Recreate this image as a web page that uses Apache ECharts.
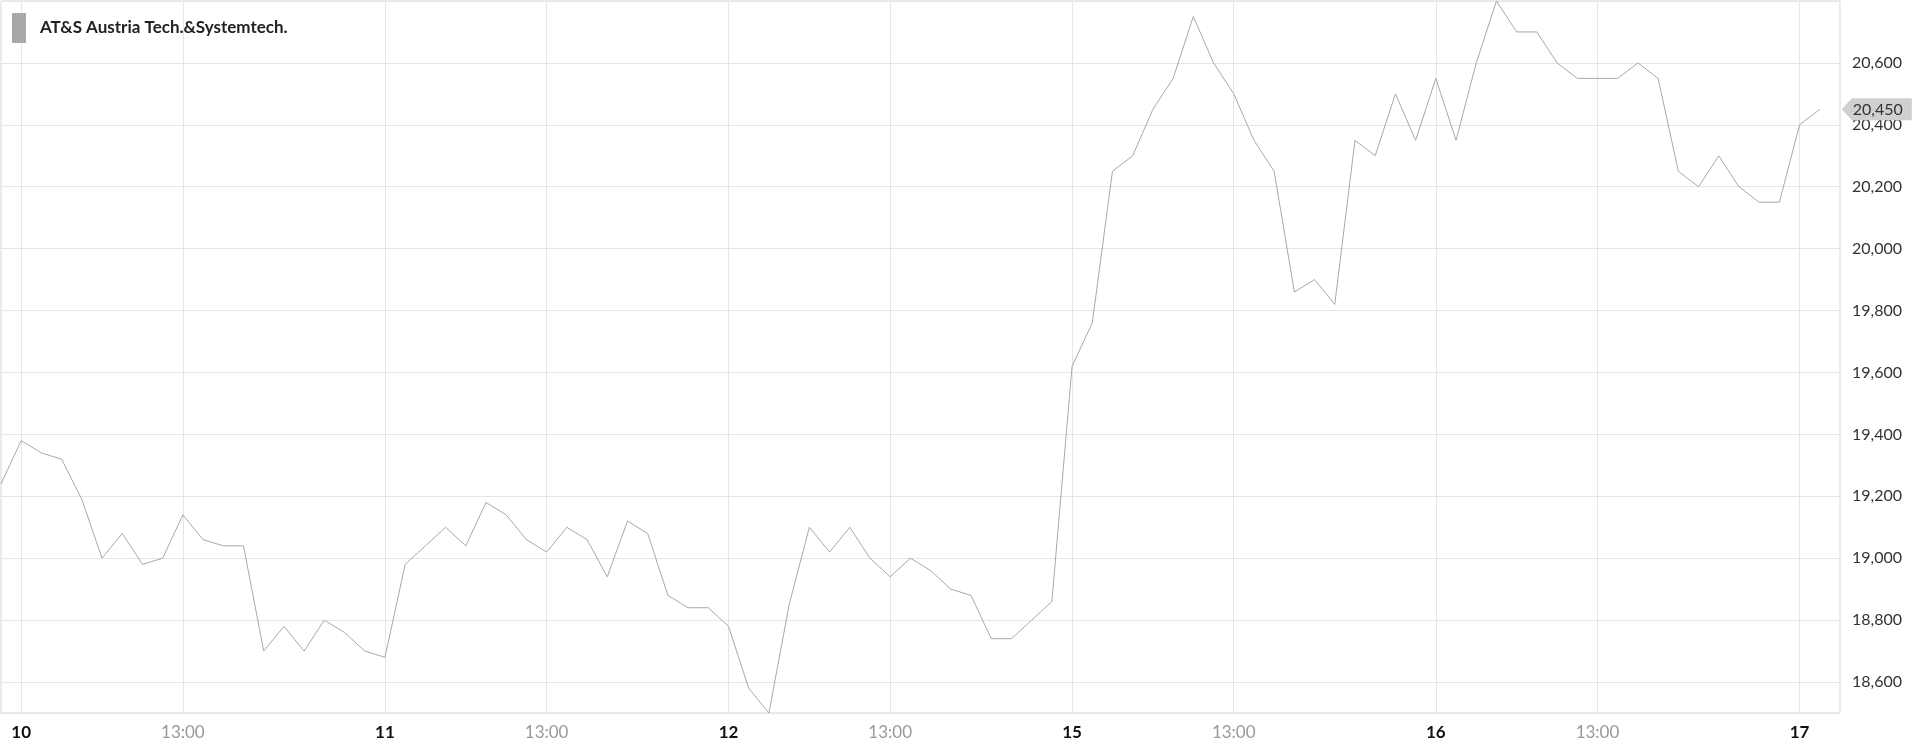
<!DOCTYPE html>
<html>
<head>
<meta charset="utf-8">
<title>AT&S Austria Tech.&Systemtech.</title>
<script src="https://cdn.jsdelivr.net/npm/echarts@6/dist/echarts.min.js"></script>
<style>
  html, body { margin: 0; padding: 0; background: #fff; }
  #chart { width: 1920px; height: 752px; }
</style>
</head>
<body>
<div id="chart"></div>
<script>
// 图表数据
var seriesName = 'AT&S Austria Tech.&Systemtech.';
var dayNames = ['10', '11', '12', '15', '16', '17'];
var slotTimes = ['09:00', '09:30', '10:00', '10:30', '11:00', '11:30', '12:00', '12:30', '13:00',
    '13:30', '14:00', '14:30', '15:00', '15:30', '16:00', '16:30', '17:00', '17:30'];
var firstCategory = '09 17:30';
var firstPrice = 19240;
var prices10 = [19380, 19340, 19320, 19190, 19000, 19080, 18980, 19000, 19140, 19060, 19040, 19040,
    18700, 18780, 18700, 18800, 18760, 18700];
var prices11 = [18680, 18980, 19040, 19100, 19040, 19180, 19140, 19060, 19020, 19100, 19060, 18940,
    19120, 19080, 18880, 18840, 18840];
var prices12 = [18780, 18580, 18500, 18850, 19100, 19020, 19100, 19000, 18940, 19000, 18960, 18900,
    18880, 18740, 18740, 18800, 18860];
var prices15 = [19620, 19760, 20250, 20300, 20450, 20550, 20750, 20600, 20500, 20350, 20250, 19860,
    19900, 19820, 20350, 20300, 20500, 20350];
var prices16 = [20550, 20350, 20600, 20800, 20700, 20700, 20600, 20550, 20550, 20550, 20600, 20550,
    20250, 20200, 20300, 20200, 20150, 20150];
var prices17 = [20400, 20450, null];
var lastPrice = 20450;
var yMin = 18500, yMax = 20800;

// 拼接类目和数值
var dayPrices = [prices10, prices11, prices12, prices15, prices16, prices17];
var categories = [firstCategory];
var values = [firstPrice];
var lastIndex = 0;
dayNames.forEach(function (d, i) {
    dayPrices[i].forEach(function (v, j) {
        categories.push(d + ' ' + slotTimes[j]);
        values.push(v);
        if (v != null) lastIndex = values.length - 1;
    });
});

function fmt(v) {
    return Number(v).toLocaleString('en-US');
}
// 只显示开盘(日期)和13:00
function isMarked(index, value) {
    var t = value.slice(3);
    return t === '09:00' || t === '13:00';
}

var fontFamily = 'Lato, "Noto Sans", sans-serif';
var myChart = echarts.init(document.getElementById('chart'));
var option = {
    animation: false,
    backgroundColor: '#fff',
    textStyle: { fontFamily: fontFamily },
    legend: {
        left: 7,
        top: 8,
        icon: 'rect',
        itemWidth: 14,
        itemHeight: 30,
        data: [seriesName],
        textStyle: {
            fontFamily: fontFamily,
            fontSize: 17,
            fontWeight: 'bold',
            color: '#222',
            padding: [0, 0, 0, 9]
        }
    },
    grid: {
        left: 1,
        right: 80,
        top: 1,
        bottom: 39,
        show: true,
        borderColor: '#ccd6eb',
        borderWidth: 1
    },
    xAxis: {
        type: 'category',
        data: categories,
        boundaryGap: false,
        axisLine: { show: false },
        axisTick: { show: false },
        splitLine: {
            show: true,
            interval: isMarked,
            lineStyle: { color: '#e6e6e6', width: 1 }
        },
        axisLabel: {
            interval: isMarked,
            margin: 11,
            formatter: function (value) {
                var t = value.slice(3);
                if (t === '09:00') return '{day|' + value.slice(0, 2) + '}';
                if (t === '13:00') return '{time|13:00}';
                return '';
            },
            rich: {
                day: { fontFamily: fontFamily, fontSize: 17, fontWeight: 'bold', color: '#111' },
                time: { fontFamily: fontFamily, fontSize: 17, color: '#999' }
            }
        }
    },
    yAxis: {
        type: 'value',
        position: 'right',
        min: yMin,
        max: yMax,
        splitNumber: 12,
        axisLine: { show: false },
        axisTick: { show: false },
        splitLine: { lineStyle: { color: '#e6e6e6', width: 1 } },
        axisLabel: {
            margin: 12,
            showMinLabel: false,
            showMaxLabel: false,
            fontFamily: fontFamily,
            fontSize: 16,
            color: '#333',
            formatter: function (v) { return fmt(v); }
        }
    },
    series: [{
        name: seriesName,
        type: 'line',
        data: values,
        showSymbol: false,
        color: '#a8a8a8',
        lineStyle: { width: 1, color: '#a8a8a8' },
        markPoint: {
            symbol: 'path://M0,11 L10,0 L70,0 L70,22 L10,22 Z',
            symbolSize: [70, 22],
            symbolOffset: [57, 0],
            itemStyle: { color: '#d0d0d0' },
            label: {
                show: true,
                position: 'inside',
                offset: [1, 0],
                fontFamily: fontFamily,
                fontSize: 16,
                color: '#333',
                formatter: function (p) { return fmt(p.value); }
            },
            data: [{ coord: [categories[lastIndex], lastPrice], value: lastPrice }]
        }
    }]
};
myChart.setOption(option);
</script>
</body>
</html>
